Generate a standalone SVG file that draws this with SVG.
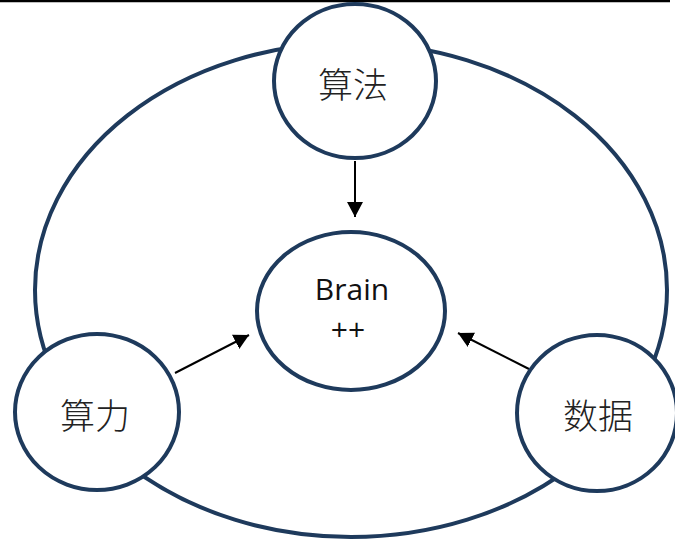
<svg xmlns="http://www.w3.org/2000/svg" width="675" height="541" viewBox="0 0 675 541">
  <style>
    .ring { fill: none; stroke: #1E3A5C; stroke-width: 4; }
    .node { fill: #ffffff; stroke: #1E3A5C; stroke-width: 4; }
    .cjk { font-family: "Noto Sans CJK SC", sans-serif; font-size: 35px; fill: #222222; text-anchor: middle; dominant-baseline: central; font-weight: 300; }
    .lat { font-family: "Open Sans", "DejaVu Sans", sans-serif; font-size: 30px; fill: #111111; text-anchor: middle; }
    .link { stroke: #000000; stroke-width: 2; fill: none; marker-end: url(#head); }
  </style>
  <defs>
    <marker id="head" viewBox="0 0 15 16" refX="15" refY="8" markerWidth="15" markerHeight="16" markerUnits="userSpaceOnUse" orient="auto">
      <path d="M0,0 L15,8 L0,16 Z" fill="#000000"/>
    </marker>
  </defs>

  <rect x="0" y="0" width="675" height="541" fill="#ffffff"/>
  <line x1="0" y1="1" x2="670" y2="1" stroke="#000000" stroke-width="2.5"/>

  <!-- outer cycle -->
  <ellipse class="ring" cx="351" cy="290" rx="316" ry="247"/>

  <g id="connectors">
    <line class="link" x1="355" y1="161" x2="355" y2="217"/>
    <line class="link" x1="175" y1="373" x2="249" y2="335"/>
    <line class="link" x1="529" y1="369" x2="458" y2="333"/>
  </g>

  <g id="algorithm">
    <ellipse class="node" cx="355" cy="81" rx="81" ry="77"/>
    <text class="cjk" x="353" y="82">算法</text>
  </g>

  <g id="brain">
    <ellipse class="node" cx="351" cy="311" rx="94" ry="79"/>
    <text class="lat" x="352" y="300">Brain</text>
    <text class="lat" x="348" y="340">++</text>
  </g>

  <g id="compute">
    <ellipse class="node" cx="97" cy="412" rx="82" ry="78"/>
    <text class="cjk" x="95" y="413">算力</text>
  </g>

  <g id="data">
    <ellipse class="node" cx="597" cy="413" rx="80" ry="78"/>
    <text class="cjk" x="598" y="413">数据</text>
  </g>
</svg>
